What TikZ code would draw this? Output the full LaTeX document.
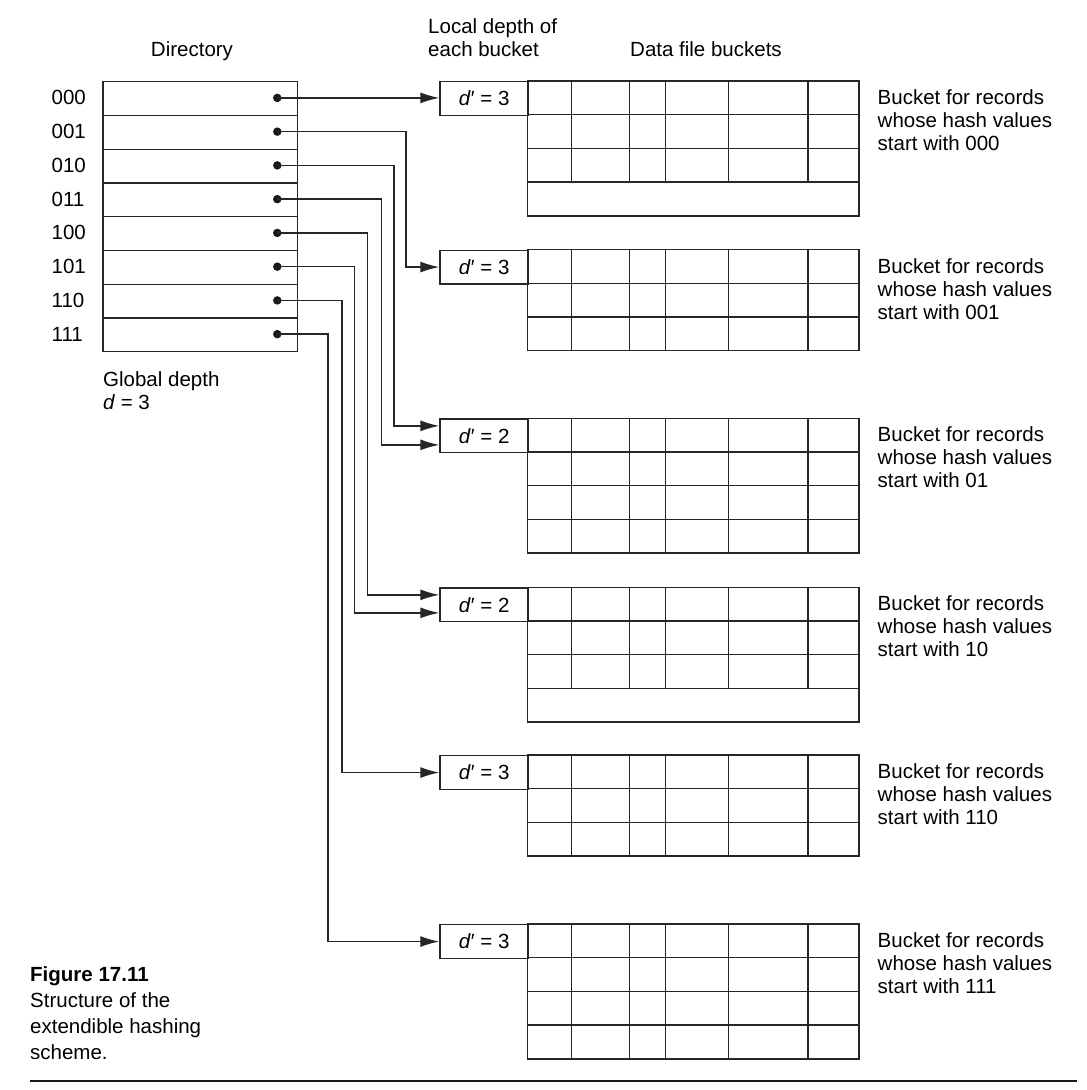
\documentclass[tikz,border=0pt]{standalone}
\usepackage{fontspec}
\setmainfont{Liberation Sans}
\usetikzlibrary{arrows.meta,calc}
\begin{document}
\begin{tikzpicture}[x=1pt,y=-1pt,
  font=\fontsize{20.5}{23}\selectfont,
  ln/.style={draw=black!85, line width=1.4pt},
  dirrow/.style={ln, minimum width=194.4pt, minimum height=33.75pt, inner sep=0pt, anchor=north west},
  dotn/.style={circle, fill=black!90, inner sep=0pt, minimum size=8.5pt},
  dbox/.style={ln, minimum width=88.4pt, minimum height=33.7pt, inner sep=0pt, anchor=north west},
  arr/.style={ln, -{Latex[length=19pt,width=11pt]}},
  lbl/.style={anchor=north west, align=left, inner sep=0pt},
  txt/.style={inner sep=0pt}]
\useasboundingbox (0,0) rectangle (1087,1090);
\fill[white] (0,0) rectangle (1087,1090);

% headings
\node[txt, anchor=base] (hdir) at (192,56.5) {Directory};
\node[txt, anchor=base west] (hloc1) at (428,33) {Local depth of};
\node[txt, anchor=base west] (hloc2) at (428,56) {each bucket};
\node[txt, anchor=base west] (hdata) at (630,56) {Data file buckets};

% directory
\foreach \k/\lab in {0/000,1/001,2/010,3/011,4/100,5/101,6/110,7/111} {
  \node[dirrow] (r\k) at (102.3,{81+\k*33.75}) {};
  \node[dotn] (d\k) at (277.3,{81+\k*33.75+16.9}) {};
  \node[txt, anchor=west] (l\k) at (51.5,{81+\k*33.75+16.9}) {\lab};
}
\node[txt, anchor=base west] (gd1) at (103,386.5) {Global depth};
\node[txt, anchor=base west] (gd2) at (103,409.5) {\textit{d} = 3};

% buckets
\foreach \i/\T/\n/\m/\dd/\lab in {1/81/4/1/3/000, 2/249.5/3/0/3/001, 3/418.3/4/0/2/01, 4/587.3/4/1/2/10, 5/755/3/0/3/110, 6/924/4/0/3/111} {
  \pgfmathsetmacro\B{\T+\n*33.7}
  \pgfmathsetmacro\V{\T+(\n-\m)*33.7}
  \pgfmathtruncatemacro\nm{\n-1}
  \node[dbox] (b\i) at (439.3,\T) {\textit{d}′ = \dd};
  \draw[ln] (527.7,\T) rectangle (859,\B);
  \foreach \k in {1,...,\nm} {
    \draw[ln] (527.7,{\T+\k*33.7}) -- (859,{\T+\k*33.7});
  }
  \foreach \c in {571.7,629.7,665.7,728.3,808} {
    \draw[ln] (\c,\T) -- (\c,\V);
  }
  \node[lbl] (t\i) at (877.5,{\T+8.5}) {Bucket for records\\whose hash values\\start with \lab};
}

% arrow targets
\coordinate (e3a) at ($(b3.west)+(0,-10)$);
\coordinate (e3b) at ($(b3.west)+(0,9)$);
\coordinate (e4a) at ($(b4.west)+(0,-10)$);
\coordinate (e4b) at ($(b4.west)+(0,8)$);

% connectors
\draw[arr] (d0.center) -- (b1.west |- d0.center);
\draw[arr] (d1.center) -| ($(b2.west)+(-33.3,0)$) -- (b2.west);
\draw[arr] (d2.center) -| ($(e3a)+(-45.3,0)$) -- (e3a);
\draw[arr] (d3.center) -| ($(e3b)+(-58,0)$) -- (e3b);
\draw[arr] (d4.center) -| ($(e4a)+(-72,0)$) -- (e4a);
\draw[arr] (d5.center) -| ($(e4b)+(-85,0)$) -- (e4b);
\draw[arr] (d6.center) -| ($(b5.west)+(-97.5,0)$) -- (b5.west);
\draw[arr] (d7.center) -| ($(b6.west)+(-111.5,0)$) -- (b6.west);

% caption
\node[txt, anchor=base west] (cap0) at (30,981) {\bfseries Figure 17.11};
\node[txt, anchor=base west] (cap1) at (30,1007) {Structure of the};
\node[txt, anchor=base west] (cap2) at (30,1033) {extendible hashing};
\node[txt, anchor=base west] (cap3) at (30,1059) {scheme.};
\draw[black!90, line width=2pt] (30,1080.7) -- (1077,1080.7);
\end{tikzpicture}
\end{document}
